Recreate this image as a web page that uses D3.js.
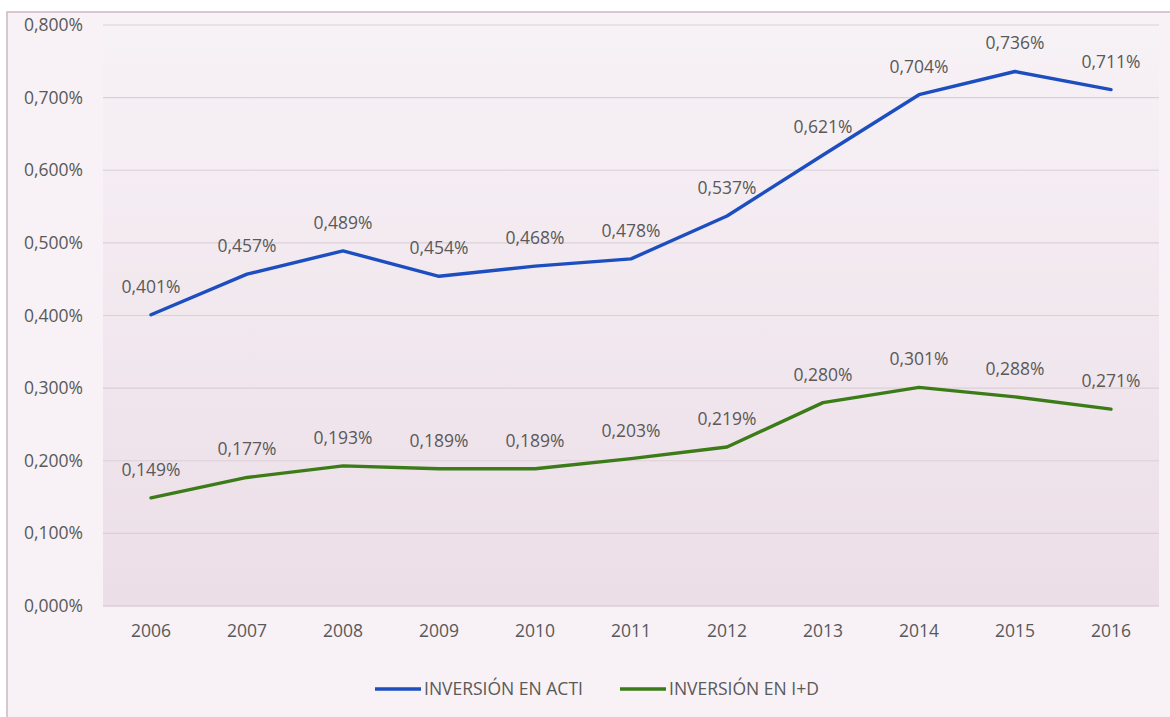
<!DOCTYPE html>
<html>
<head>
<meta charset="utf-8">
<script src="https://cdn.jsdelivr.net/npm/d3@7"></script>
<style>
  html, body { margin: 0; padding: 0; background: #ffffff; }
  svg { display: block; }
</style>
</head>
<body>
<svg id="chart" width="1170" height="717"></svg>
<script>
// Data
const years = ["2006", "2007", "2008", "2009", "2010", "2011", "2012", "2013", "2014", "2015", "2016"];
const acti = [0.401, 0.457, 0.489, 0.454, 0.468, 0.478, 0.537, 0.621, 0.704, 0.736, 0.711];
const iyd = [0.149, 0.177, 0.193, 0.189, 0.189, 0.203, 0.219, 0.280, 0.301, 0.288, 0.271];
const yTicks = [0, 0.1, 0.2, 0.3, 0.4, 0.5, 0.6, 0.7, 0.8];
const seriesNames = ["INVERSIÓN EN ACTI", "INVERSIÓN EN I+D"];
const seriesColors = ["#1d4ebf", "#3b7b18"];

const width = 1170, height = 717;
const margin = { top: 25, right: 11, bottom: 111, left: 103 };

const svg = d3.select("#chart");
const font = "'Open Sans', sans-serif";

// outer chart frame
svg.append("rect")
    .attr("x", 7).attr("y", 12)
    .attr("width", width).attr("height", height)
    .attr("fill", "#f8f1f5")
    .attr("stroke", "#cdb6c4")
    .attr("stroke-width", 1.5);

const defs = svg.append("defs");
const grad = defs.append("linearGradient")
    .attr("id", "plotbg")
    .attr("x1", 0).attr("y1", 0).attr("x2", 0).attr("y2", 1);
grad.append("stop").attr("offset", "0%").attr("stop-color", "#f7f2f6");
grad.append("stop").attr("offset", "100%").attr("stop-color", "#ecdee7");

const x = d3.scaleBand()
    .domain(years)
    .range([margin.left, width - margin.right]);

const y = d3.scaleLinear()
    .domain([0, 0.8])
    .range([height - margin.bottom, margin.top]);

// plot area background
svg.append("rect")
    .attr("x", margin.left).attr("y", margin.top)
    .attr("width", width - margin.left - margin.right)
    .attr("height", height - margin.top - margin.bottom)
    .attr("fill", "url(#plotbg)");

// gridlines
svg.append("g")
    .selectAll("line")
    .data(yTicks)
    .join("line")
    .attr("x1", margin.left).attr("x2", width - margin.right)
    .attr("y1", d => y(d)).attr("y2", d => y(d))
    .attr("stroke", d => d === 0 ? "#d2c2cc" : "#dccfd7")
    .attr("stroke-width", 1.2);

const pct = d => d3.format(".3f")(d).replace(".", ",") + "%";

// y axis labels
const yAxis = d3.axisLeft(y).tickValues(yTicks).tickFormat(pct).tickSize(0).tickPadding(0);
svg.append("g")
    .attr("transform", `translate(83,0)`)
    .call(yAxis)
    .call(g => g.select(".domain").remove())
    .selectAll("text")
    .attr("fill", "#595959")
    .style("font", `17.5px ${font}`);

// x axis labels
const xAxis = d3.axisBottom(x).tickSize(0).tickPadding(0);
svg.append("g")
    .attr("transform", `translate(0,${height - margin.bottom + 19})`)
    .call(xAxis)
    .call(g => g.select(".domain").remove())
    .selectAll("text")
    .attr("fill", "#595959")
    .style("font", `17.5px ${font}`);

const line = d3.line()
    .x((d, i) => x(years[i]) + x.bandwidth() / 2)
    .y(d => y(d));

[acti, iyd].forEach((vals, s) => {
    svg.append("path")
        .datum(vals)
        .attr("fill", "none")
        .attr("stroke", seriesColors[s])
        .attr("stroke-width", 3.4)
        .attr("stroke-linejoin", "round")
        .attr("stroke-linecap", "round")
        .attr("d", line);

    svg.append("g")
        .selectAll("text")
        .data(vals)
        .join("text")
        .attr("x", (d, i) => x(years[i]) + x.bandwidth() / 2)
        .attr("y", d => y(d) - 22)
        .attr("text-anchor", "middle")
        .attr("fill", "#595959")
        .style("font", `17.5px ${font}`)
        .text(pct);
});

// legend
const legendX = [375, 620];
const legend = svg.append("g");
seriesNames.forEach((name, s) => {
    legend.append("line")
        .attr("x1", legendX[s]).attr("x2", legendX[s] + 46)
        .attr("y1", 689).attr("y2", 689)
        .attr("stroke", seriesColors[s])
        .attr("stroke-width", 3.4);
    legend.append("text")
        .attr("x", legendX[s] + 49)
        .attr("y", 689)
        .attr("dy", "0.35em")
        .attr("fill", "#595959")
        .style("font", `17.5px ${font}`)
        .text(name);
});
</script>
</body>
</html>
